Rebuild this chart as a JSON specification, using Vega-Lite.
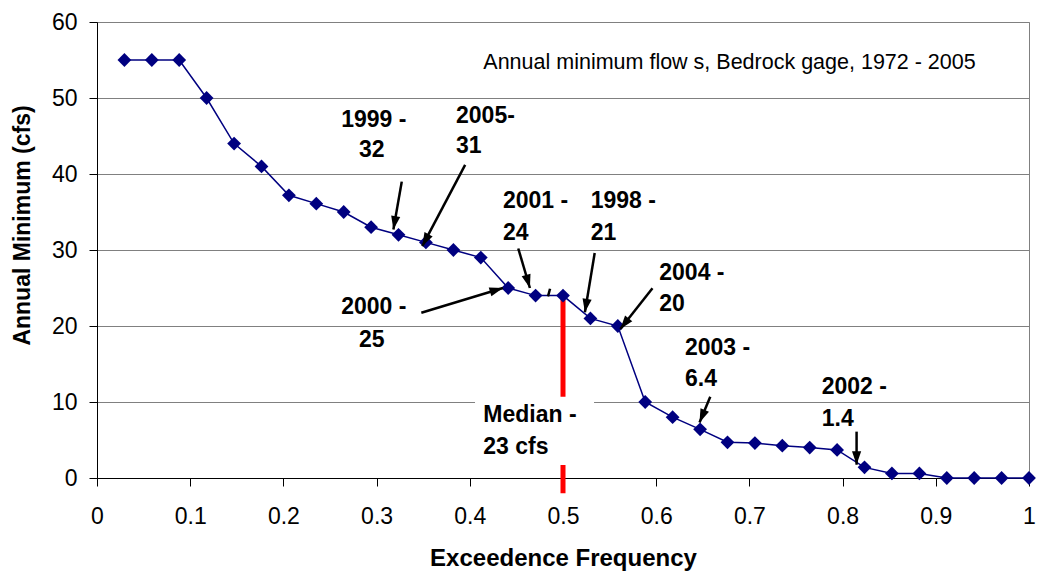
{
  "$schema": "https://vega.github.io/schema/vega-lite/v6.json",
  "width": 932,
  "height": 456,
  "autosize": {"type": "none"},
  "padding": {"left": 97, "top": 22, "right": 10, "bottom": 97},
  "background": "white",
  "config": {
    "view": {"stroke": "#808080", "strokeWidth": 1},
    "axis": {"domainColor": "black", "tickColor": "black", "labelColor": "black", "titleColor": "black"}
  },
  "datasets": {
    "flows": [
      {"f": 0.0294, "q": 55}, {"f": 0.0588, "q": 55}, {"f": 0.0882, "q": 55},
      {"f": 0.1176, "q": 50}, {"f": 0.1471, "q": 44}, {"f": 0.1765, "q": 41},
      {"f": 0.2059, "q": 37.2}, {"f": 0.2353, "q": 36.1}, {"f": 0.2647, "q": 35},
      {"f": 0.2941, "q": 33}, {"f": 0.3235, "q": 32}, {"f": 0.3529, "q": 31},
      {"f": 0.3824, "q": 30}, {"f": 0.4118, "q": 29}, {"f": 0.4412, "q": 25},
      {"f": 0.4706, "q": 24}, {"f": 0.5, "q": 24}, {"f": 0.5294, "q": 21},
      {"f": 0.5588, "q": 20}, {"f": 0.5882, "q": 10}, {"f": 0.6176, "q": 8},
      {"f": 0.6471, "q": 6.4}, {"f": 0.6765, "q": 4.7}, {"f": 0.7059, "q": 4.6},
      {"f": 0.7353, "q": 4.25}, {"f": 0.7647, "q": 4.0}, {"f": 0.7941, "q": 3.7},
      {"f": 0.8235, "q": 1.4}, {"f": 0.8529, "q": 0.6}, {"f": 0.8824, "q": 0.6},
      {"f": 0.9118, "q": 0}, {"f": 0.9412, "q": 0}, {"f": 0.9706, "q": 0},
      {"f": 1.0, "q": 0}
    ],
    "median": [{"f": 0.5, "q": -2.0, "q2": 24}],
    "medianBox": [{"f": 0.4056, "f2": 0.5333, "q": 1.71, "q2": 10.7}],
    "arrows": [
      {"name": "1999", "f": 0.327, "q": 39.0, "f2": 0.318, "q2": 32.7, "head": true},
      {"name": "2005", "f": 0.395, "q": 41.2, "f2": 0.349, "q2": 30.5, "head": true},
      {"name": "2001", "f": 0.452, "q": 30.2, "f2": 0.4645, "q2": 25.0, "head": true},
      {"name": "1998", "f": 0.534, "q": 29.6, "f2": 0.5235, "q2": 21.8, "head": true},
      {"name": "2000", "f": 0.348, "q": 21.75, "f2": 0.4356, "q2": 25.0, "head": true},
      {"name": "2004", "f": 0.596, "q": 24.96, "f2": 0.5615, "q2": 19.6, "head": true},
      {"name": "2003", "f": 0.658, "q": 10.7, "f2": 0.6465, "q2": 7.3, "head": true},
      {"name": "2002", "f": 0.815, "q": 6.1, "f2": 0.815, "q2": 1.75, "head": true},
      {"name": "slash", "f": 0.4839, "q": 23.9, "f2": 0.4861, "q2": 24.9, "head": false}
    ],
    "notes": [
      {"label": "1999 -", "f": 0.2620, "q": 47.1},
      {"label": "32", "f": 0.2811, "q": 43.2},
      {"label": "2005-", "f": 0.3852, "q": 47.6},
      {"label": "31", "f": 0.3852, "q": 43.65},
      {"label": "2001 -", "f": 0.4356, "q": 36.4},
      {"label": "24", "f": 0.4356, "q": 32.25},
      {"label": "1998 -", "f": 0.5297, "q": 36.4},
      {"label": "21", "f": 0.5297, "q": 32.25},
      {"label": "2000 -", "f": 0.2620, "q": 22.45},
      {"label": "25", "f": 0.2811, "q": 18.2},
      {"label": "2004 -", "f": 0.6033, "q": 26.97},
      {"label": "20", "f": 0.6033, "q": 22.92},
      {"label": "2003 -", "f": 0.6309, "q": 17.17},
      {"label": "6.4", "f": 0.6309, "q": 13.0},
      {"label": "2002 -", "f": 0.7776, "q": 12.03},
      {"label": "1.4", "f": 0.7776, "q": 7.76},
      {"label": "Median -", "f": 0.4145, "q": 8.34},
      {"label": "23 cfs", "f": 0.4145, "q": 4.13}
    ],
    "caption": [{"label": "Annual minimum flow s, Bedrock gage, 1972 - 2005", "f": 0.4145, "q": 54.6}]
  },
  "encoding": {
    "x": {
      "field": "f", "type": "quantitative",
      "scale": {"domain": [0, 1], "nice": false, "zero": false},
      "axis": {
        "values": [0, 0.1, 0.2, 0.3, 0.4, 0.5, 0.6, 0.7, 0.8, 0.9, 1],
        "format": "~g",
        "grid": false,
        "tickSize": 8, "tickWidth": 1,
        "labelPadding": 19,
        "labelFont": "Liberation Sans", "labelFontSize": 23,
        "labelFlush": false, "labelOverlap": false,
        "title": "Exceedence Frequency",
        "titleFont": "Liberation Sans", "titleFontSize": 24, "titleFontWeight": "bold",
        "titleX": 466, "titleY": 80, "titleBaseline": "middle", "titleAlign": "center"
      }
    },
    "y": {
      "field": "q", "type": "quantitative",
      "scale": {"domain": [0, 60], "nice": false, "zero": false},
      "axis": {
        "values": [0, 10, 20, 30, 40, 50, 60],
        "grid": true, "gridColor": "#808080", "gridWidth": 1,
        "tickSize": 8, "tickWidth": 1,
        "labelPadding": 12,
        "labelFont": "Liberation Sans", "labelFontSize": 23,
        "labelFlush": false, "labelOverlap": false,
        "title": "Annual Minimum (cfs)",
        "titleFont": "Liberation Sans", "titleFontSize": 23, "titleFontWeight": "bold",
        "titleAngle": -90, "titleX": -75, "titleY": 203, "titleBaseline": "middle", "titleAlign": "center"
      }
    }
  },
  "layer": [
    {
      "data": {"name": "median"},
      "mark": {"type": "rule", "color": "#ff0000", "strokeWidth": 5},
      "encoding": {"y2": {"field": "q2"}}
    },
    {
      "data": {"name": "medianBox"},
      "mark": {"type": "rect", "fill": "white", "stroke": null},
      "encoding": {"x2": {"field": "f2"}, "y2": {"field": "q2"}}
    },
    {
      "data": {"name": "flows"},
      "mark": {"type": "line", "color": "#000080", "strokeWidth": 1.5},
      "encoding": {}
    },
    {
      "data": {"name": "flows"},
      "mark": {"type": "point", "shape": "diamond", "filled": true, "color": "#000080", "size": 190, "opacity": 1},
      "encoding": {}
    },
    {
      "data": {"name": "arrows"},
      "mark": {"type": "rule", "color": "black", "strokeWidth": 2.5},
      "encoding": {"x2": {"field": "f2"}, "y2": {"field": "q2"}}
    },
    {
      "data": {"name": "arrows"},
      "transform": [
        {"filter": "datum.head"},
        {"calculate": "atan2((datum.f2 - datum.f) * 932, (datum.q2 - datum.q) * 7.6) * 180 / PI", "as": "ang"}
      ],
      "mark": {"type": "point", "shape": "M0,0L-0.34,1L0.34,1Z", "filled": true, "color": "black", "size": 729, "opacity": 1},
      "encoding": {
        "x": {"field": "f2", "type": "quantitative"},
        "y": {"field": "q2", "type": "quantitative"},
        "angle": {"field": "ang", "type": "quantitative", "scale": null}
      }
    },
    {
      "data": {"name": "notes"},
      "mark": {"type": "text", "align": "left", "baseline": "middle", "font": "Liberation Sans", "fontSize": 23, "fontWeight": "bold", "color": "black"},
      "encoding": {"text": {"field": "label"}}
    },
    {
      "data": {"name": "caption"},
      "mark": {"type": "text", "align": "left", "baseline": "middle", "font": "Liberation Sans", "fontSize": 21.5, "color": "black"},
      "encoding": {"text": {"field": "label"}}
    }
  ]
}
